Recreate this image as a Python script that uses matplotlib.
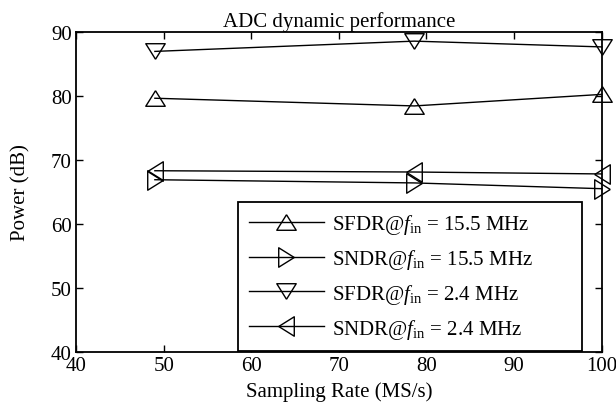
import matplotlib
matplotlib.use("Agg")
import matplotlib.pyplot as plt

plt.rcParams['font.family'] = ['Liberation Serif', 'DejaVu Serif']
plt.rcParams['mathtext.fontset'] = 'custom'
plt.rcParams['mathtext.rm'] = 'Liberation Serif'
plt.rcParams['mathtext.it'] = 'Liberation Serif:italic'

# Data
rate = [49, 78.6, 100]
sfdr_15_5 = [79.6, 78.4, 80.2]
sndr_15_5 = [66.9, 66.4, 65.5]
sfdr_2_4 = [86.9, 88.5, 87.6]
sndr_2_4 = [68.3, 68.1, 67.8]

labels = [r'SFDR@$f_{\mathrm{in}}$ = 15.5 MHz',
          r'SNDR@$f_{\mathrm{in}}$ = 15.5 MHz',
          r'SFDR@$f_{\mathrm{in}}$ = 2.4 MHz',
          r'SNDR@$f_{\mathrm{in}}$ = 2.4 MHz']
series = [sfdr_15_5, sndr_15_5, sfdr_2_4, sndr_2_4]

xticks = [40, 50, 60, 70, 80, 90, 100]
yticks = [40, 50, 60, 70, 80, 90]

# triangle markers, wider than tall (MATLAB style)
h = 0.8
up = [(0, h), (-1, -h), (1, -h), (0, h)]
down = [(0, -h), (-1, h), (1, h), (0, -h)]
right = [(h, 0), (-h, 1), (-h, -1), (h, 0)]
left = [(-h, 0), (h, 1), (h, -1), (-h, 0)]
markers = [up, right, down, left]

fs = 15
fig = plt.figure(figsize=(6.16, 4.10), dpi=100)
ax = fig.add_axes([0.1234, 0.1383, 0.8534, 0.7824])

for y, m, lab in zip(series, markers, labels):
    ax.plot(rate, y, color='black', lw=1.0, marker=m, markersize=14,
            markerfacecolor='none', markeredgecolor='black',
            markeredgewidth=1.0, label=lab, clip_on=False)

ax.set_xlim(40, 100)
ax.set_ylim(40, 90)
ax.set_xticks(xticks)
ax.set_yticks(yticks)
ax.tick_params(direction='in', top=True, right=True, length=5, width=1.0,
               labelsize=fs, pad=3)
for s in ax.spines.values():
    s.set_linewidth(1.3)

ax.set_title('ADC dynamic performance', fontsize=fs, pad=4)
ax.set_xlabel('Sampling Rate (MS/s)', fontsize=fs, labelpad=4)
ax.set_ylabel('Power (dB)', fontsize=fs, labelpad=15)

leg = ax.legend(loc='lower left', bbox_to_anchor=(0.309, 0.004, 0.654, 0.468),
                mode='expand', fontsize=fs, numpoints=1, handlelength=3.6,
                handletextpad=0.4, labelspacing=0.52, borderpad=0.5,
                fancybox=False, framealpha=1, edgecolor='black',
                borderaxespad=0)
leg.get_frame().set_linewidth(1.3)

fig.savefig('out.png', dpi=100)
